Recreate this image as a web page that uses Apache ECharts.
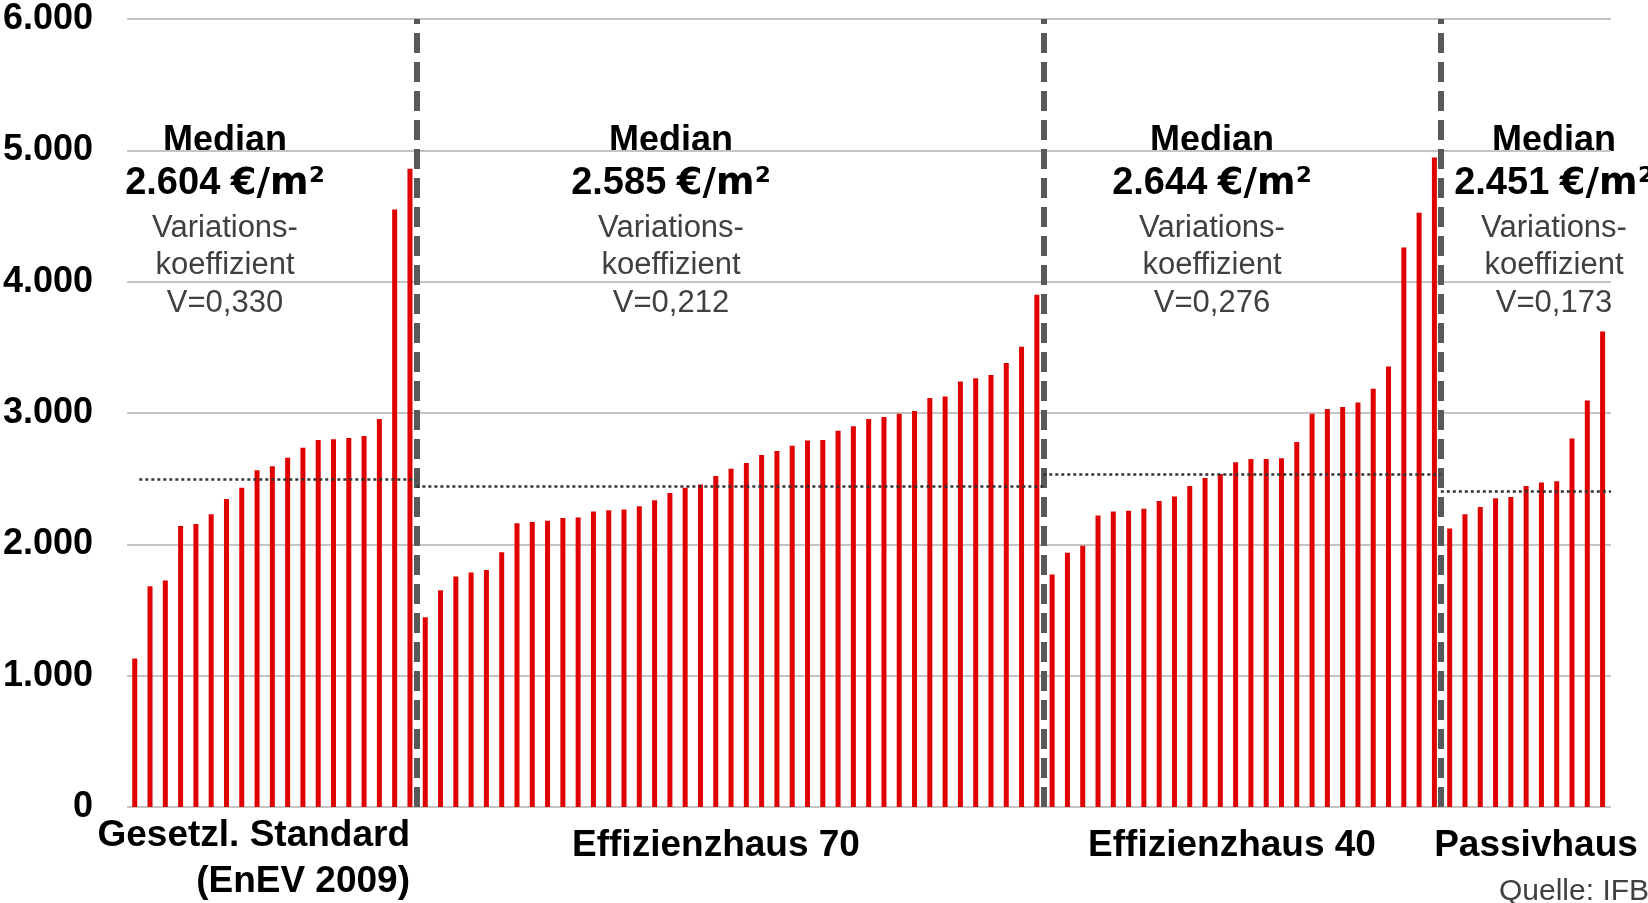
<!DOCTYPE html>
<html>
<head>
<meta charset="utf-8">
<script src="https://cdn.jsdelivr.net/npm/echarts@6/dist/echarts.min.js"></script>
<style>
    html, body { margin: 0; padding: 0; background: #fff; }
    #main { width: 1648px; height: 903px; }
</style>
</head>
<body>
<div id="main"></div>
<script>
// Baukosten je m², sortiert innerhalb jeder Gruppe
const standardValues = [1130, 1680, 1725, 2140, 2155, 2230, 2345, 2430, 2565, 2595, 2660, 2735, 2795, 2800, 2810, 2825, 2955, 4550, 4860];
const eh70Values = [1445, 1650, 1755, 1785, 1805, 1940, 2160, 2170, 2180, 2200, 2205, 2250, 2260, 2265, 2290, 2335, 2390, 2430, 2455, 2520,
    2575, 2620, 2680, 2710, 2750, 2790, 2795, 2865, 2900, 2955, 2970, 2995, 3015, 3115, 3125, 3240, 3265, 3290, 3380, 3505, 3900];
const eh40Values = [1770, 1935, 1990, 2220, 2250, 2255, 2270, 2330, 2365, 2445, 2505, 2535, 2625, 2650, 2650, 2655, 2780, 2995, 3030, 3045,
    3080, 3185, 3355, 4260, 4525, 4945];
const passivValues = [2120, 2230, 2285, 2350, 2360, 2445, 2470, 2480, 2805, 3095, 3620];

const groupNames = ['Effizienzhaus 70', 'Effizienzhaus 40', 'Passivhaus'];
const medianTexts = ['2.604', '2.585', '2.644', '2.451'];
const variationTexts = ['0,330', '0,212', '0,276', '0,173'];
const refLineValues = [2495, 2445, 2535, 2405];
const yTicks = [0, 1000, 2000, 3000, 4000, 5000, 6000];

const groups = [standardValues, eh70Values, eh40Values, passivValues];
const FONT = '"Liberation Sans", Arial, sans-serif';
const xMin = -0.5, xMax = 96.55;

let barData = [];
let boundaries = [];
let idx = 0;
for (const g of groups) {
    for (const v of g) {
        barData.push([idx, v]);
        idx++;
    }
    boundaries.push(idx - 1 + 0.42);
}
boundaries.pop();

// gestrichelte Trennlinien zwischen den Gruppen
let markData = boundaries.map(b => ({
    xAxis: b,
    lineStyle: { color: '#595959', width: 6, type: [20, 9] }
}));
// gepunktete Linien je Gruppe
const starts = [0.3].concat(boundaries);
const ends = boundaries.concat([xMax]);
refLineValues.forEach((v, i) => {
    markData.push([
        { coord: [starts[i], v], lineStyle: { color: '#333', width: 2.5, type: [3, 3] } },
        { coord: [ends[i], v] }
    ]);
});

function txt(x, y, text, size, bold, color, align) {
    return {
        type: 'text', x: x, y: y, silent: true,
        style: {
            text: text,
            font: (bold ? 'bold ' : '') + size + 'px ' + FONT,
            fill: color,
            align: align || 'center', textAlign: align || 'center',
            verticalAlign: 'middle', textVerticalAlign: 'middle'
        }
    };
}

let graphics = [];
const annoX = [225, 671, 1212, 1554];
annoX.forEach((x, i) => {
    graphics.push(txt(x, 141, 'Median', 36, true, '#000'));
    let m = txt(x, 184, '{a|' + medianTexts[i] + ' }{b|€/m²}', 38, true, '#000');
    m.style.rich = {
        a: { fontFamily: FONT, fontWeight: 'bold', fontSize: 38, fill: '#000' },
        b: { fontFamily: '"DejaVu Sans", sans-serif', fontWeight: 'bold', fontSize: 37, fill: '#000' }
    };
    graphics.push(m);
    graphics.push(txt(x, 228, 'Variations-', 31, false, '#404040'));
    graphics.push(txt(x, 265, 'koeffizient', 31, false, '#404040'));
    graphics.push(txt(x, 303, 'V=' + variationTexts[i], 31, false, '#404040'));
});
graphics.push(txt(410, 836, 'Gesetzl. Standard', 37, true, '#000', 'right'));
graphics.push(txt(410, 882, '(EnEV 2009)', 37, true, '#000', 'right'));
const catX = [716, 1232, 1536];
groupNames.forEach((n, i) => graphics.push(txt(catX[i], 846, n, 37, true, '#000')));
graphics.push(txt(1499, 892, 'Quelle: IFB', 30, false, '#404040', 'left'));

const chart = echarts.init(document.getElementById('main'));
const option = {
    backgroundColor: '#fff',
    animation: false,
    grid: { left: 127, right: 37, top: 19, bottom: 96 },
    xAxis: { type: 'value', min: xMin, max: xMax, show: false },
    yAxis: {
        type: 'value',
        min: yTicks[0],
        max: yTicks[yTicks.length - 1],
        interval: 1000,
        axisLine: { show: false },
        axisTick: { show: false },
        splitLine: { lineStyle: { color: '#c4c4c4', width: 2 } },
        axisLabel: {
            margin: 34,
            fontSize: 36,
            fontWeight: 'bold',
            fontFamily: FONT,
            color: '#000',
            formatter: v => v === 0 ? '0' : (v / 1000) + '.000'
        }
    },
    series: [{
        type: 'bar',
        data: barData,
        barWidth: 5,
        itemStyle: { color: '#e00000' },
        markLine: {
            silent: true,
            symbol: 'none',
            animation: false,
            label: { show: false },
            emphasis: { disabled: true },
            data: markData
        }
    }],
    graphic: graphics
};
chart.setOption(option);
window.addEventListener('resize', function() {
    chart.resize();
});
</script>
</body>
</html>
